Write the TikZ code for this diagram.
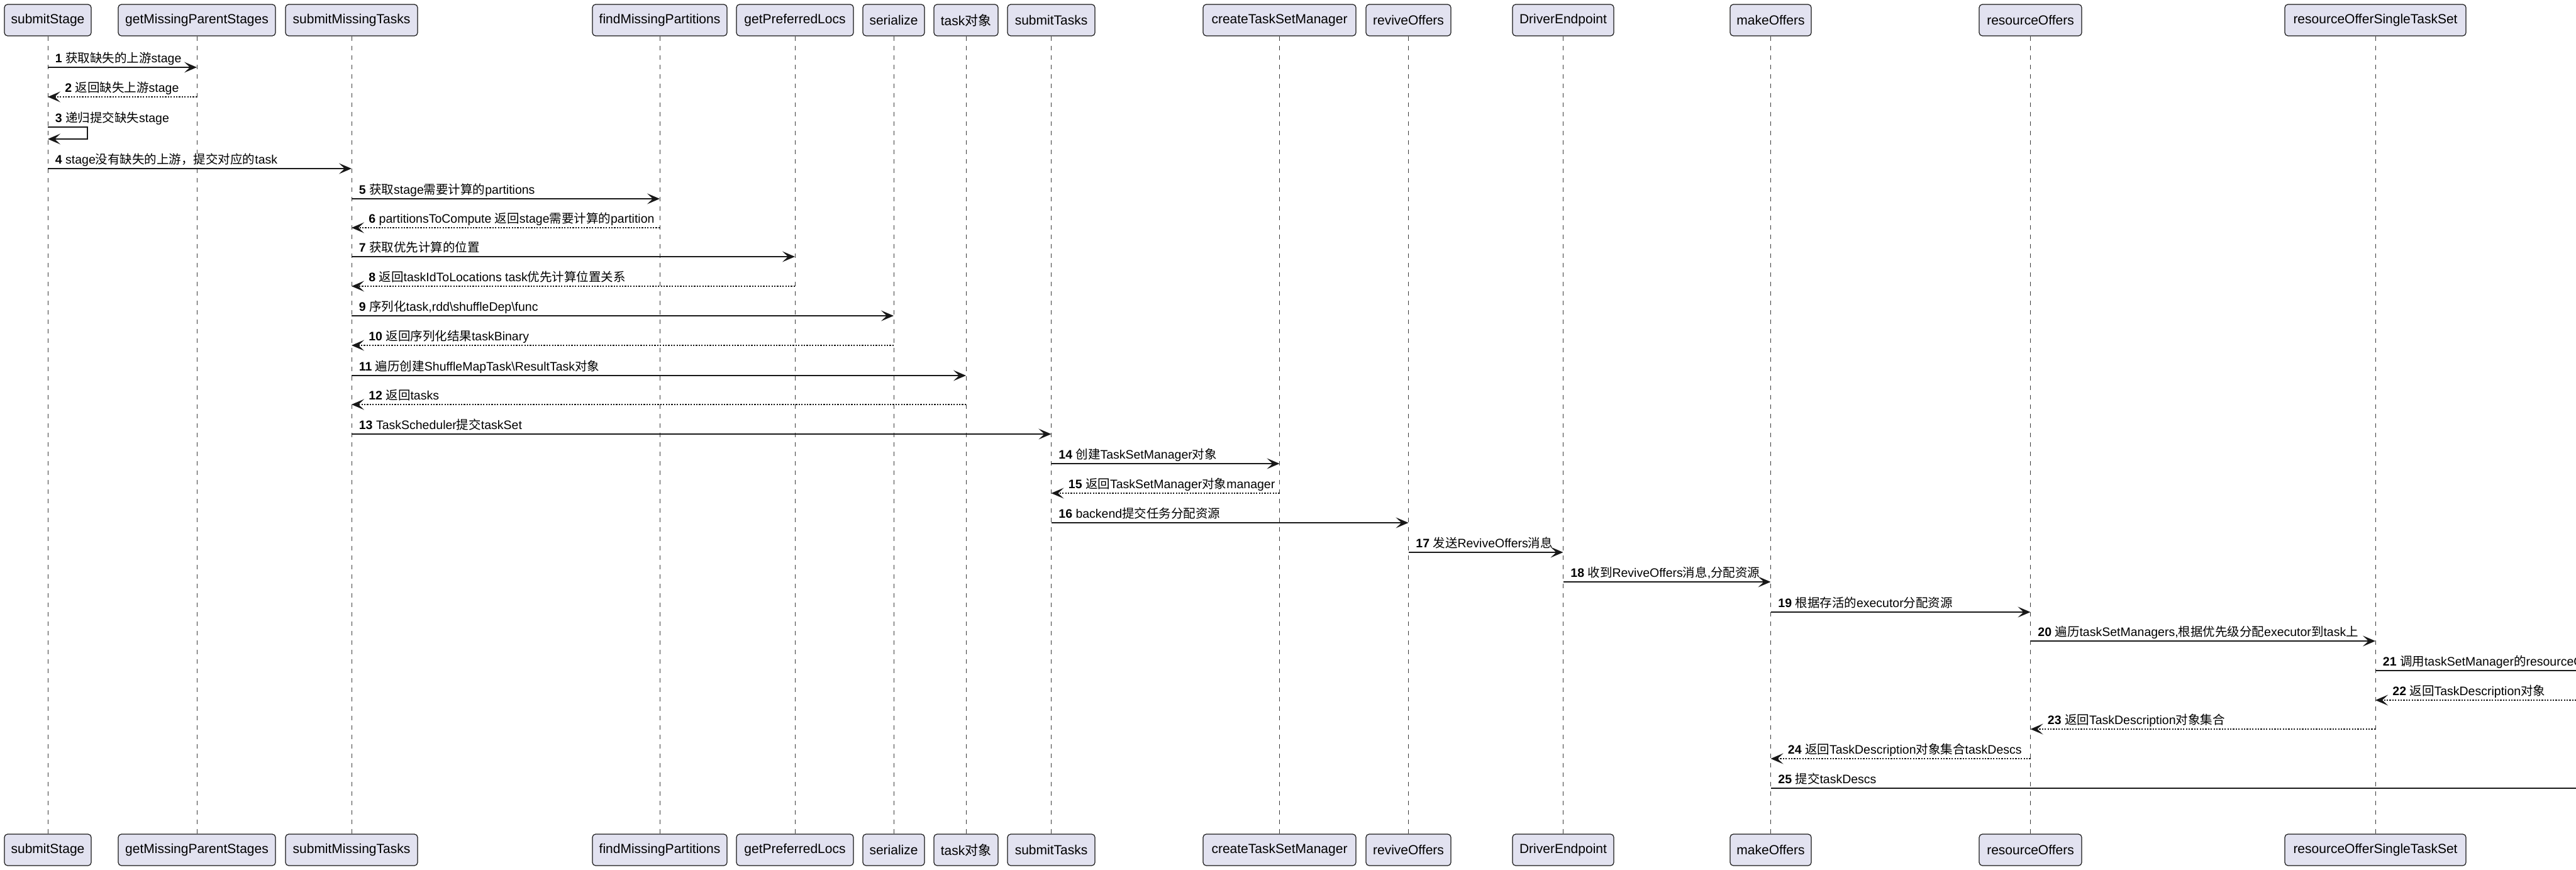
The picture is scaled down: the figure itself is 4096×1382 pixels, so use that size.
\documentclass[tikz,border=0pt]{standalone}
\usepackage{fontspec}
\setmainfont{Liberation Sans}
\newfontfamily\cjk{Noto Sans CJK SC}
\usetikzlibrary{arrows.meta}
\newcommand\zh[1]{{\cjk #1}}
\definecolor{boxfill}{HTML}{E2E2F0}
\definecolor{ink}{HTML}{181818}
\tikzset{
  part/.style={draw=ink, fill=boxfill, rounded corners=2.5pt, line width=0.6pt,
    minimum height=25pt, inner sep=0pt, font=\fontsize{10.5pt}{12pt}\selectfont},
  lifeline/.style={draw=ink!85, line width=0.5pt, dash pattern=on 3.5pt off 4pt},
  msgline/.style={draw=ink, line width=0.75pt,
    -{Stealth[length=10pt,width=8.5pt,inset=4.5pt]}},
  retline/.style={msgline, dash pattern=on 1.1pt off 1.1pt},
  lbl/.style={font=\fontsize{9.75pt}{11pt}\selectfont, inner sep=0pt,
    anchor=base west, text=black},
}
\newcommand\participant[4]{%
  \node[part, minimum width=#3*0.5pt] (#1) at (#2,32) {#4};
  \node[part, minimum width=#3*0.5pt] (#1f) at (#2,1351) {#4};
  \draw[lifeline] (#1) -- (#1f);}
\newcommand\fwd[5]{%
  \draw[msgline] (#2 |- 0,#4) -- (#3 |- 0,#4);
  \node[lbl] (#1) at ([xshift=5.75pt,yshift=3.75pt]#2 |- 0,#4) {#5};}
\newcommand\bwd[5]{%
  \draw[retline] (#2 |- 0,#4) -- (#3 |- 0,#4);
  \node[lbl] (#1) at ([xshift=13.5pt,yshift=3.75pt]#3 |- 0,#4) {#5};}
\begin{document}
\begin{tikzpicture}[x=0.5pt,y=-0.5pt]
\useasboundingbox (0,0) rectangle (4096,1382);
\clip (0,0) rectangle (4096,1382);
\fill[white] (0,0) rectangle (4096,1382);
\participant{ss}{76}{138}{submitStage}
\participant{gmps}{313}{250}{getMissingParentStages}
\participant{smt}{559}{210}{submitMissingTasks}
\participant{fmp}{1049}{214}{findMissingPartitions}
\participant{gpl}{1264}{186}{getPreferredLocs}
\participant{ser}{1421}{98}{serialize}
\participant{tobj}{1536}{102}{task\zh{对象}}
\participant{st}{1671.5}{139}{submitTasks}
\participant{ctsm}{2034.5}{243}{createTaskSetManager}
\participant{ro}{2239.5}{135}{reviveOffers}
\participant{de}{2485.5}{161}{DriverEndpoint}
\participant{mo}{2815.5}{129}{makeOffers}
\participant{rof}{3228.5}{163}{resourceOffers}
\participant{rosts}{3777}{288}{resourceOfferSingleTaskSet}
\coordinate (offp) at (4400,32);
% messages
\fwd{m1}{ss}{gmps}{107}{\textbf{1} \zh{获取缺失的上游}stage}
\bwd{m2}{gmps}{ss}{154}{\textbf{2} \zh{返回缺失上游}stage}
\draw[msgline] (ss |- 0,202) -- ++(63,0) -- ++(0,19) -- (ss |- 0,221);
\node[lbl] (m3) at ([xshift=5.75pt,yshift=3.75pt]ss |- 0,202) {\textbf{3} \zh{递归提交缺失}stage};
\fwd{m4}{ss}{smt}{268}{\textbf{4} stage\zh{没有缺失的上游，提交对应的}task}
\fwd{m5}{smt}{fmp}{316}{\textbf{5} \zh{获取}stage\zh{需要计算的}partitions}
\bwd{m6}{fmp}{smt}{362}{\textbf{6} partitionsToCompute \zh{返回}stage\zh{需要计算的}partition}
\fwd{m7}{smt}{gpl}{408}{\textbf{7} \zh{获取优先计算的位置}}
\bwd{m8}{gpl}{smt}{455}{\textbf{8} \zh{返回}taskIdToLocations task\zh{优先计算位置关系}}
\fwd{m9}{smt}{ser}{502}{\textbf{9} \zh{序列化}task,rdd\textbackslash{}shuffleDep\textbackslash{}func}
\bwd{m10}{ser}{smt}{549}{\textbf{10} \zh{返回序列化结果}taskBinary}
\fwd{m11}{smt}{tobj}{597}{\textbf{11} \zh{遍历创建}ShuffleMapTask\textbackslash{}ResultTask\zh{对象}}
\bwd{m12}{tobj}{smt}{643}{\textbf{12} \zh{返回}tasks}
\fwd{m13}{smt}{st}{690}{\textbf{13} TaskScheduler\zh{提交}taskSet}
\fwd{m14}{st}{ctsm}{737}{\textbf{14} \zh{创建}TaskSetManager\zh{对象}}
\bwd{m15}{ctsm}{st}{784}{\textbf{15} \zh{返回}TaskSetManager\zh{对象}manager}
\fwd{m16}{st}{ro}{831}{\textbf{16} backend\zh{提交任务分配资源}}
\fwd{m17}{ro}{de}{878}{\textbf{17} \zh{发送}ReviveOffers\zh{消息}}
\fwd{m18}{de}{mo}{925}{\textbf{18} \zh{收到}ReviveOffers\zh{消息}{,}\zh{分配资源}}
\fwd{m19}{mo}{rof}{973}{\textbf{19} \zh{根据存活的}executor\zh{分配资源}}
\fwd{m20}{rof}{rosts}{1019}{\textbf{20} \zh{遍历}taskSetManagers,\zh{根据优先级分配}executor\zh{到}task\zh{上}}
\fwd{m21}{rosts}{offp}{1066}{\textbf{21} \zh{调用}taskSetManager\zh{的}resourceOffer}
\bwd{m22}{offp}{rosts}{1113}{\textbf{22} \zh{返回}TaskDescription\zh{对象}}
\bwd{m23}{rosts}{rof}{1159}{\textbf{23} \zh{返回}TaskDescription\zh{对象集合}}
\bwd{m24}{rof}{mo}{1206}{\textbf{24} \zh{返回}TaskDescription\zh{对象集合}taskDescs}
\fwd{m25}{mo}{offp}{1253}{\textbf{25} \zh{提交}taskDescs}
\end{tikzpicture}
\end{document}
